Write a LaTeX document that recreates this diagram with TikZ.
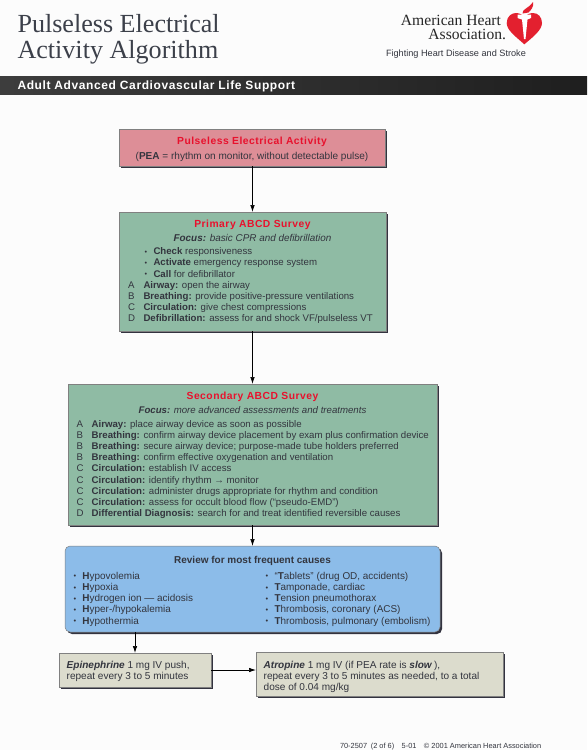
\documentclass[tikz,border=0pt]{standalone}
\usepackage{xcolor}
\usepackage{fontspec}
\usepackage{array}
\setmainfont{Liberation Sans}
\newfontfamily\headfont{Liberation Serif}
\newfontfamily\spacedfont[LetterSpace=5]{Liberation Sans}
\usetikzlibrary{arrows.meta, calc, positioning, shadows}
\definecolor{inkgray}{HTML}{33353E}
\definecolor{headgray}{HTML}{3C404A}
\definecolor{shadowgray}{HTML}{33333F}
\definecolor{pinkbox}{HTML}{DD8E97}
\definecolor{greenbox}{HTML}{8FBBA4}
\definecolor{bluebox}{HTML}{8CBCE9}
\definecolor{graybox}{HTML}{DCDCCD}
\definecolor{ahared}{HTML}{E3202F}
\definecolor{titlered}{HTML}{E8112D}
\newcommand{\bodysize}{\fontsize{9.65}{11.2}\selectfont}
\newcommand{\largesize}{\fontsize{10.05}{11.2}\selectfont}
\newcommand{\pbul}{\makebox[9pt][l]{\raisebox{.5pt}{\scalebox{.75}{\textbullet}}}}
\begin{document}
\begin{tikzpicture}[
    x=1pt, y=-1pt,
    >={Latex[length=7pt,width=4.5pt]},
    every node/.style={text=inkgray, inner sep=0pt, outer sep=0pt},
    card/.style   ={draw=gray, line width=.5pt,
                    drop shadow={shadow xshift=2pt, shadow yshift=-2pt, fill=shadowgray, opacity=1}},
    pinkcard/.style ={card, fill=pinkbox},
    greencard/.style={card, fill=greenbox},
    bluecard/.style ={card, fill=bluebox, rounded corners=5pt},
    graycard/.style ={card, fill=graybox},
    heading/.style={font=\spacedfont\fontsize{10.3}{11}\selectfont\bfseries, text=titlered},
    listing/.style={font=\bodysize, align=left, anchor=north west},
    flow/.style   ={->, line width=.7pt, shorten >=0pt},
]
\useasboundingbox (0,0) rectangle (587,750);
\fill[white!98!gray] (0,0) rectangle (587,750);
% page head
\node[anchor=base west, font=\headfont\fontsize{26.1}{28}\selectfont, text=headgray] (headone) at (17.5,32) {Pulseless Electrical};
\node[anchor=base west, font=\headfont\fontsize{26.1}{28}\selectfont, text=headgray] (headtwo) at (17.5,58) {Activity Algorithm};
\node[anchor=base east, font=\headfont\fontsize{15.6}{16}\selectfont, text=black!85] (ahaone) at (501,25) {American Heart};
\node[anchor=base east, font=\headfont\fontsize{15.6}{16}\selectfont, text=black!85] (ahatwo) at (506,39.5) {Association.};
\node[anchor=base west, font=\fontsize{9.15}{10}\selectfont] (ahatag) at (386,56.5) {Fighting Heart Disease and Stroke};
% heart and torch
\fill[ahared] (524.3,44.3) .. controls (515,36) and (506.7,30) .. (506.7,23)
    .. controls (506.7,16) and (512,13) .. (516,13)
    .. controls (520,13) and (523,15) .. (524.5,18)
    .. controls (526,15) and (529,13) .. (533,13)
    .. controls (538,13) and (542,17) .. (542,23)
    .. controls (542,30) and (533,37) .. (524.3,44.3) -- cycle;
\fill[white] (517.5,14.5) -- (531,14.5) -- (531,18) -- (527.5,19.5) -- (525.5,39) -- (524,39)
    -- (522,19.5) -- (517.5,18) -- cycle;
\fill[ahared] (522.5,13.5) .. controls (522,9) and (528,9) .. (533,2)
    .. controls (534,7) and (531,10) .. (528.5,12.5) -- cycle;
% black band
\node[minimum width=587pt, minimum height=18pt, left color=black!76, right color=black!88, draw=none] (band) at (293.5,85) {};
\node[anchor=base west, text=white, font=\spacedfont\fontsize{12}{12}\selectfont\bfseries] (bandtext) at (17.5,89.5) {Adult Advanced Cardiovascular Life Support};
% boxes
\node[pinkcard, minimum width=266pt, minimum height=37pt] (pea) at (252,147.5) {};
\node[greencard, minimum width=267pt, minimum height=119pt] (primary) at (252.5,271.5) {};
\node[greencard, minimum width=369pt, minimum height=141pt] (secondary) at (252.5,454.5) {};
\node[bluecard, minimum width=375pt, minimum height=86pt] (review) at (252.5,589) {};
\node[graycard, minimum width=152pt, minimum height=34pt] (epi) at (135,670) {};
\node[graycard, minimum width=247pt, minimum height=44pt] (atropine) at (379.5,674) {};
% pea text
\node[heading] (peatitle) at (252,142) {Pulseless Electrical Activity};
\node[font=\largesize] (peatext) at (252,156.5) {(\textbf{PEA} = rhythm on monitor, without detectable pulse)};
% primary survey text
\node[heading] (primarytitle) at (252.5,224.5) {Primary ABCD Survey};
\node[font=\fontsize{9.9}{11}\selectfont\itshape] (primaryfocus) at (252.5,238) {\textbf{Focus:} basic CPR and defibrillation};
\node[listing] (primarylist) at (128,246.9) {\begin{tabular}{@{}p{15.5pt}@{}l@{}}
  & \hspace{1pt}\pbul\textbf{Check} responsiveness\\
  & \hspace{1pt}\pbul\textbf{Activate} emergency response system\\
  & \hspace{1pt}\pbul\textbf{Call} for defibrillator\\
  A & \textbf{Airway:} open the airway\\
  B & \textbf{Breathing:} provide positive-pressure ventilations\\
  C & \textbf{Circulation:} give chest compressions\\
  D & \textbf{Defibrillation:} assess for and shock VF/pulseless VT
\end{tabular}};
% secondary survey text
\node[heading] (secondarytitle) at (252.5,397) {Secondary ABCD Survey};
\node[font=\bodysize\itshape] (secondaryfocus) at (252.5,410) {\textbf{Focus:} more advanced assessments and treatments};
\node[listing] (secondarylist) at (76.7,419.3) {\begin{tabular}{@{}p{15pt}@{}l@{}}
  A & \textbf{Airway:} place airway device as soon as possible\\
  B & \textbf{Breathing:} confirm airway device placement by exam plus confirmation device\\
  B & \textbf{Breathing:} secure airway device; purpose-made tube holders preferred\\
  B & \textbf{Breathing:} confirm effective oxygenation and ventilation\\
  C & \textbf{Circulation:} establish IV access\\
  C & \textbf{Circulation:} identify rhythm \textbf{→} monitor\\
  C & \textbf{Circulation:} administer drugs appropriate for rhythm and condition\\
  C & \textbf{Circulation:} assess for occult blood flow (“pseudo-EMD”)\\
  D & \textbf{Differential Diagnosis:} search for and treat identified reversible causes
\end{tabular}};
% review text
\node[font=\fontsize{10}{11}\selectfont\bfseries] (reviewtitle) at (252.5,560.5) {Review for most frequent causes};
\node[listing, font=\fontsize{9.95}{11.2}\selectfont] (reviewleft) at (73.5,571.5) {\begin{tabular}{@{}l@{}}
  \pbul\textbf{H}ypovolemia\\
  \pbul\textbf{H}ypoxia\\
  \pbul\textbf{H}ydrogen ion — acidosis\\
  \pbul\textbf{H}yper-/hypokalemia\\
  \pbul\textbf{H}ypothermia
\end{tabular}};
\node[listing, font=\fontsize{9.95}{11.2}\selectfont] (reviewright) at (265.5,571.5) {\begin{tabular}{@{}l@{}}
  \pbul“\textbf{T}ablets” (drug OD, accidents)\\
  \pbul\textbf{T}amponade, cardiac\\
  \pbul\textbf{T}ension pneumothorax\\
  \pbul\textbf{T}hrombosis, coronary (ACS)\\
  \pbul\textbf{T}hrombosis, pulmonary (embolism)
\end{tabular}};
% drug text
\node[listing, font=\largesize] (epitext) at (66.7,660.5) {\begin{tabular}{@{}l@{}}
  \textbf{\textit{Epinephrine}} 1 mg IV push,\\
  repeat every 3 to 5 minutes
\end{tabular}};
\node[listing, font=\largesize] (atropinetext) at (263.7,660.5) {\begin{tabular}{@{}l@{}}
  \textbf{\textit{Atropine}} 1 mg IV (if PEA rate is \textbf{\textit{slow}}\,),\\
  repeat every 3 to 5 minutes as needed, to a total\\
  dose of 0.04 mg/kg
\end{tabular}};
\node[anchor=base west, font=\fontsize{7.4}{8}\selectfont] (footer) at (340,748) {70-2507\enspace (2 of 6)\enspace\enspace 5-01\enspace\enspace © 2001 American Heart Association};
% connectors
\draw[flow] (pea.south -| primary.north) -- (primary.north);
\draw[flow] (primary.south) -- (secondary.north);
\draw[flow] (secondary.south) -- (review.north);
\draw[flow] (review.south -| epi.north) -- (epi.north);
\draw[flow] (epi.east) -- (epi.east -| atropine.west);
\end{tikzpicture}
\end{document}
